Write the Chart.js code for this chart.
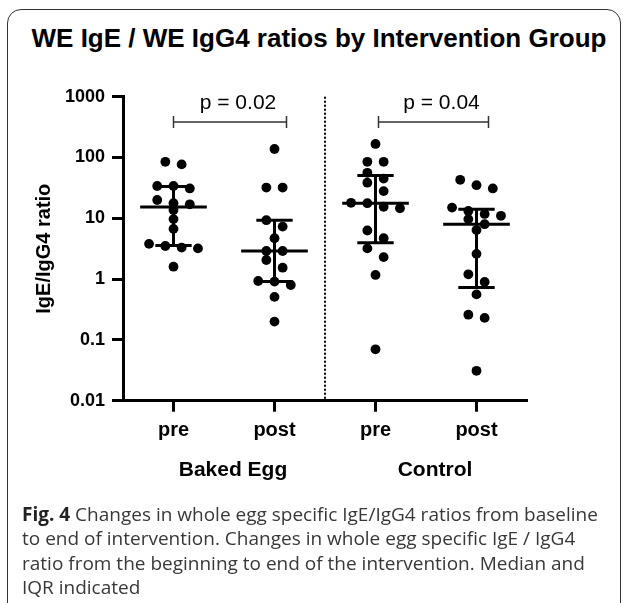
<!DOCTYPE html>
<html>
<head>
<meta charset="utf-8">
<script src="https://cdn.jsdelivr.net/npm/chart.js@4"></script>
<style>
  html, body { margin: 0; padding: 0; background: #fff; }
  #page { position: relative; width: 624px; height: 603px; overflow: hidden; }
  #frame { position: absolute; left: 7px; top: 9px; width: 614px; height: 640px;
           border: 1.5px solid #333; border-radius: 14px; box-sizing: border-box; }
  #title { position: absolute; left: 0; top: 23px; width: 638px; text-align: center;
           font: bold 26px "Liberation Sans", Arial, sans-serif; line-height: 30px; color: #000; }
  #chart { position: absolute; left: 0; top: 0; }
  #caption { position: absolute; left: 22px; top: 502px; white-space: nowrap;
             font: 19px "Open Sans", sans-serif; line-height: 24.4px; color: #383838; letter-spacing: 0px; }
  #caption b { color: #222; }
</style>
</head>
<body>
<div id="page">
  <div id="frame"></div>
  <div id="title">WE IgE / WE IgG4 ratios by Intervention Group</div>
  <canvas id="chart" width="624" height="603"></canvas>
  <div id="caption"><b>Fig. 4</b> Changes in whole egg specific IgE/IgG4 ratios from baseline<br>to end of intervention. Changes in whole egg specific IgE / IgG4<br>ratio from the beginning to end of the intervention. Median and<br>IQR indicated</div>
</div>
<script>
// categories along the x axis
const timeLabels = ['pre', 'post', 'pre', 'post'];
const groupLabels = ['Baked Egg', 'Control'];
const pValues = ['p = 0.02', 'p = 0.04'];
const yTicks = [0.01, 0.1, 1, 10, 100, 1000];

// IgE/IgG4 ratio per child
const bakedPre = [85, 77, 34, 31, 34, 20, 17, 17.7, 13.7, 9.7, 6.7, 3.8, 3.3, 3.2, 3.5, 1.6];
const bakedPost = [138, 32, 32, 9.3, 7.3, 4.7, 2.9, 2.9, 2.06, 1.54, 0.93, 0.8, 0.91, 0.51, 0.2];
const controlPre = [167, 85, 85, 56, 45, 38.5, 28, 17.7, 14.6, 15.5, 18, 6.3, 4.7, 3.2, 2.3, 1.17, 0.07];
const controlPost = [43, 35, 31, 15, 13.2, 11.8, 11, 9.7, 8.0, 6.4, 2.6, 1.2, 0.9, 0.56, 0.26, 0.23, 0.031];

const series = [bakedPre, bakedPost, controlPre, controlPost];

// quantile the way Prism does it ((n+1)p, linear interpolation)
function quantile(values, p) {
  const s = values.slice().sort((a, b) => a - b);
  const pos = (s.length + 1) * p - 1;
  const lo = Math.max(0, Math.floor(pos)), hi = Math.min(s.length - 1, lo + 1);
  return s[lo] + (s[hi] - s[lo]) * (pos - lo);
}

const black = '#000';
const datasets = [];

series.forEach((vals, i) => {
  const c = i + 1;
  datasets.push({
    type: 'scatter',
    data: vals.map(v => ({ x: c, y: v })),
    backgroundColor: black, borderColor: black, borderWidth: 0,
    pointRadius: 4.9, pointHoverRadius: 4.9
  });
});

series.forEach((vals, i) => {
  const c = i + 1;
  const med = quantile(vals, 0.5), q1 = quantile(vals, 0.25), q3 = quantile(vals, 0.75);
  const segs = [
    [{ x: c - 0.33, y: med }, { x: c + 0.33, y: med }],
    [{ x: c - 0.18, y: q3 }, { x: c + 0.18, y: q3 }],
    [{ x: c - 0.18, y: q1 }, { x: c + 0.18, y: q1 }],
    [{ x: c, y: q1 }, { x: c, y: q3 }]
  ];
  segs.forEach(seg => datasets.push({
    type: 'line', data: seg, borderColor: black, borderWidth: 3,
    pointRadius: 0, fill: false, borderCapStyle: 'butt'
  }));
});

// spread the dots of each column into rows (scatter dot layout)
function swarm(chart) {
  const xs = chart.scales.x, ys = chart.scales.y;
  const unit = xs.getPixelForValue(1) - xs.getPixelForValue(0);
  const rowH = 9, gap = 16.3;
  series.forEach((vals, i) => {
    const c = i + 1;
    const pts = vals.map(v => ({ v, py: ys.getPixelForValue(v) })).sort((a, b) => a.py - b.py);
    const out = [];
    let row = [];
    const flush = () => {
      row.forEach((p, k) => out.push({ x: c + (k - (row.length - 1) / 2) * gap / unit, y: p.v }));
      row = [];
    };
    pts.forEach(p => {
      if (row.length && p.py - row[0].py > rowH) flush();
      row.push(p);
    });
    flush();
    chart.data.datasets[i].data = out;
  });
  chart.update('none');
}

const extras = {
  id: 'extras',
  afterDraw(chart) {
    const { ctx, chartArea, scales: { x, y } } = chart;
    ctx.save();
    // dotted divider between groups
    ctx.strokeStyle = black;
    ctx.lineWidth = 2;
    ctx.setLineDash([2, 2]);
    const dx = Math.round(x.getPixelForValue(2.5));
    ctx.beginPath();
    ctx.moveTo(dx, chartArea.top);
    ctx.lineTo(dx, chartArea.bottom);
    ctx.stroke();
    ctx.setLineDash([]);

    // significance brackets and group names
    const by = y.getPixelForValue(385);
    groupLabels.forEach((g, i) => {
      const l = x.getPixelForValue(i * 2 + 1) + (i ? 3 : 0);
      const r = x.getPixelForValue(i * 2 + 2) + 12;
      ctx.strokeStyle = '#333';
      ctx.lineWidth = 1.5;
      ctx.beginPath();
      ctx.moveTo(l, by - 6); ctx.lineTo(l, by + 6);
      ctx.moveTo(l, by); ctx.lineTo(r, by);
      ctx.moveTo(r, by - 6); ctx.lineTo(r, by + 6);
      ctx.stroke();
      ctx.fillStyle = black;
      ctx.textAlign = 'center';
      ctx.textBaseline = 'alphabetic';
      ctx.font = '21px "Liberation Sans", Arial, sans-serif';
      ctx.fillText(pValues[i], (l + r) / 2 + 8, by - 13);
      const mid = (x.getPixelForValue(i * 2 + 1) + x.getPixelForValue(i * 2 + 2)) / 2;
      ctx.font = 'bold 21px "Liberation Sans", Arial, sans-serif';
      ctx.textBaseline = 'middle';
      ctx.fillText(g, mid + 9, 470);
    });
    ctx.restore();
  }
};

const chart = new Chart(document.getElementById('chart'), {
  type: 'scatter',
  data: { datasets },
  options: {
    responsive: false,
    animation: false,
    layout: { padding: { left: 0, right: 97, top: 96.7, bottom: 142.3 } },
    plugins: { legend: { display: false }, tooltip: { enabled: false } },
    scales: {
      x: {
        type: 'linear', min: 0.5, max: 4.5,
        afterBuildTicks: s => { s.ticks = timeLabels.map((t, i) => ({ value: i + 1 })); },
        afterFit: s => { s.height = 60; },
        ticks: {
          callback: v => timeLabels[v - 1],
          font: { family: '"Liberation Sans", Arial, sans-serif', size: 20, weight: 'bold' },
          color: black, padding: 7, maxRotation: 0
        },
        grid: { drawOnChartArea: false, tickLength: 11, tickWidth: 3, color: black },
        border: { width: 3, color: black }
      },
      y: {
        type: 'logarithmic', min: 0.01, max: 1000,
        afterBuildTicks: s => { s.ticks = yTicks.map(v => ({ value: v })); },
        afterFit: s => { s.width = 123; },
        ticks: {
          callback: v => String(v),
          font: { family: '"Liberation Sans", Arial, sans-serif', size: 18, weight: 'bold' },
          color: black, padding: 7
        },
        grid: { drawOnChartArea: false, tickLength: 11, tickWidth: 3, color: black },
        border: { width: 3, color: black },
        title: {
          display: true, text: 'IgE/IgG4 ratio', color: black,
          font: { family: '"Liberation Sans", Arial, sans-serif', size: 20, weight: 'bold' },
          padding: { top: 32, bottom: 0 }
        }
      }
    }
  },
  plugins: [extras]
});

swarm(chart);
</script>
</body>
</html>
